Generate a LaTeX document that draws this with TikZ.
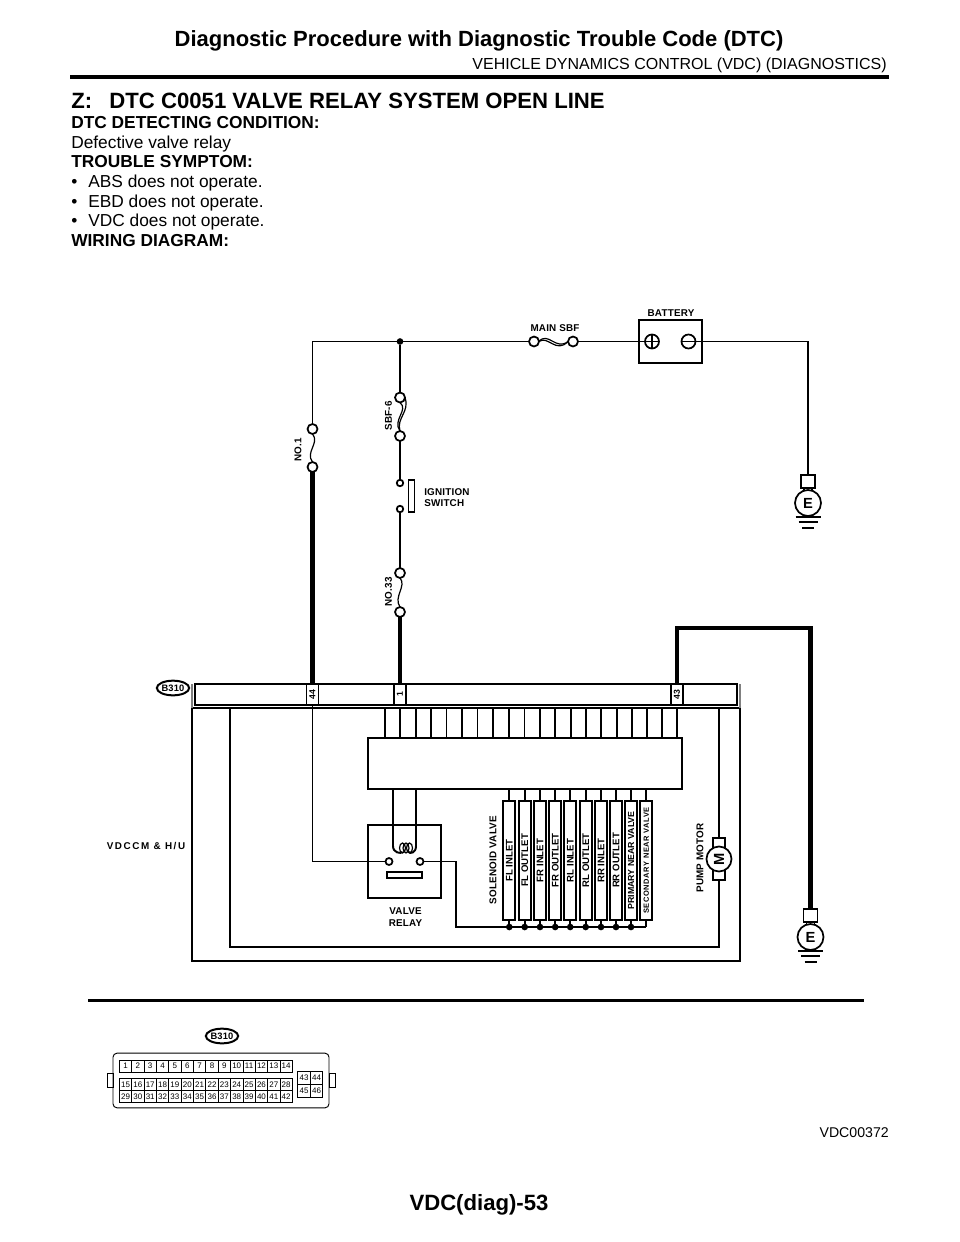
\documentclass[tikz,border=0pt]{standalone}
\usepackage{fontspec}
\setmainfont{Liberation Sans}
\newfontfamily\labfont[LetterSpace=2]{Liberation Sans Bold}
\newfontfamily\widelabfont[LetterSpace=16]{Liberation Sans Bold}
\newfontfamily\smalllabfont[LetterSpace=8]{Liberation Sans Bold}
\newfontfamily\cellfont{Liberation Sans Bold}
\tikzset{
  wire/.style={line width=1.45pt},
  thickwire/.style={line width=3.6pt},
  box/.style 2 args={draw,line width=1.45pt,fill=white,inner sep=0,outer sep=0,minimum width=#1*0.75pt,minimum height=#2*0.75pt},
  term/.style={circle,draw,line width=1.3pt,fill=white,inner sep=0,outer sep=0,minimum size=#1*0.75pt},
  dot/.style={circle,fill=black,inner sep=0,outer sep=0,minimum size=5pt},
  lab/.style={font=\labfont\fontsize{7.4}{8.8}\selectfont,align=center,inner sep=0},
  body/.style={anchor=base west,inner sep=0,font=\fontsize{13}{15}\selectfont},
  bodyb/.style={anchor=base west,inner sep=0,font=\bfseries\fontsize{13}{15}\selectfont},
  tag/.style={ellipse,draw,line width=1.5pt,inner sep=0,minimum width=24pt,minimum height=11pt,font=\labfont\fontsize{7}{8}\selectfont},
  pin/.style={box={21}{12},font=\labfont\fontsize{6.5}{7}\selectfont},
  cell/.style={box={119}{12},rotate=90,font=\cellfont\fontsize{7.2}{8}\selectfont},
  gridcell/.style={draw,line width=.6pt,inner sep=0,outer sep=0,minimum width=9.27pt,minimum height=#1*0.75pt,font=\fontsize{6}{7}\selectfont},
  fuse/.style={line width=.9pt},
}
\usetikzlibrary{shapes.geometric}
\begin{document}
\begin{tikzpicture}[x=0.75pt,y=-0.75pt]
\useasboundingbox (0,0) rectangle (960,1242);

% header
\node[inner sep=0,font=\bfseries\fontsize{16.5}{20}\selectfont,anchor=base] (title) at (479,46) {Diagnostic Procedure with Diagnostic Trouble Code (DTC)};
\node[inner sep=0,font=\fontsize{12}{14}\selectfont,anchor=base east] (subtitle) at (887,69) {VEHICLE DYNAMICS CONTROL (VDC) (DIAGNOSTICS)};
\draw[line width=3pt] (70,76.5) -- (889,76.5);

\node[bodyb,font=\bfseries\fontsize{16.6}{20}\selectfont] (head) at (71,108) {Z:\hspace{13pt}DTC C0051 VALVE RELAY SYSTEM OPEN LINE};
\node[bodyb] (t1) at (71,128.5) {DTC DETECTING CONDITION:};
\node[body] (t2) at (71,148) {Defective valve relay};
\node[bodyb] (t3) at (71,167.5) {TROUBLE SYMPTOM:};
\foreach \y/\txt in {187/ABS,207/EBD,226/VDC}{
  \node[body] at (71,\y) {•};
  \node[body] at (88,\y) {\txt{} does not operate.};
}
\node[bodyb] (t4) at (71,246) {WIRING DIAGRAM:};

% battery side
\node[box={63}{43}] (battery) at (670.5,341.5) {};
\node[term=14,fill=none] (plus) at (652,341.5) {};
\node[term=14,fill=none] (minus) at (688.5,341.5) {};
\draw[wire] (plus.west) -- (plus.east) (plus.north) -- (plus.south);
\draw[wire] (minus.west) -- (minus.east);
\node[lab] at (671,313) {BATTERY};
\node[lab] at (555,328) {MAIN SBF};

\node[dot] (junc) at (400,341.5) {};
\node[term=10] (sbfa) at (534,341.5) {};
\node[term=10] (sbfb) at (573,341.5) {};
\node[term=10] (no1a) at (312.5,429) {};
\node[term=10] (no1b) at (312.5,467) {};
\node[term=10] (sbf6a) at (400,397.5) {};
\node[term=10] (sbf6b) at (400,436) {};
\node[term=6.5] (iga) at (400,483) {};
\node[term=6.5] (igb) at (400,509) {};
\node[box={6}{32}] (igbar) at (411.5,496) {};
\node[term=10] (no33a) at (400,573) {};
\node[term=10] (no33b) at (400,612) {};

\draw[wire] (no1a) |- (junc);
\draw[wire] (junc) -- (sbfa);
\draw[wire] (sbfb) -- (plus);
\draw[wire] (junc) -- (sbf6a);
\draw[wire] (sbf6b) -- (iga);
\draw[wire] (igb) -- (no33a);

% fuses
\draw[fuse] (no1a.south) .. controls (320,443) and (305,452) .. (no1b.north);
\draw[fuse] (no33a.south) .. controls (407,586) and (393,597) .. (no33b.north);
\draw[fuse] (sbf6a.south) .. controls (409,410) and (392,420) .. (sbf6b.north);
\draw[fuse] (sbf6a.east) .. controls (410,412) and (396,418) .. (sbf6b.north);
\draw[fuse] (sbfa.east) .. controls (548,331) and (556,351) .. (sbfb.west);
\draw[fuse] (sbfa.east) .. controls (548,335) and (556,354) .. (sbfb.west);

\node[lab,rotate=90] at (298,450) {NO.1};
\node[lab,rotate=90] at (388.5,416) {SBF-6};
\node[lab,rotate=90] at (388.5,592) {NO.33};
\node[lab,align=left,anchor=west] at (424,497.5) {IGNITION\\SWITCH};

% grounds
\node[box={14}{13}] (eb1) at (808,481.5) {};
\node[term=26,font=\bfseries\fontsize{11}{12}\selectfont] (e1) at (808,503) {E};
\node[box={14}{13}] (eb2) at (810.5,915.5) {};
\node[term=26,font=\bfseries\fontsize{11}{12}\selectfont] (e2) at (810.5,937) {E};
\draw[wire] (minus) -| (eb1.north);
\draw[wire] (804,488) -- (804,491) (812,488) -- (812,491);
\draw[wire] (806.5,922) -- (806.5,925) (814.5,922) -- (814.5,925);
\draw[wire] (e1.south) ++(-12.5,1) -- ++(25,0) ++(-22,5) -- ++(19,0) ++(-15.5,6) -- ++(12,0);
\draw[wire] (e2.south) ++(-12.5,1) -- ++(25,0) ++(-22,5) -- ++(19,0) ++(-15.5,6) -- ++(12,0);

% control unit
\node[box={548}{253}] (vdccm) at (466,834.5) {};
\draw[line width=1pt,gray] (192,684) -- (192,708) (740,684) -- (740,708);
\node[box={542}{21}] (bar) at (466,694.5) {};
\node[pin,rotate=90] (p44) at (312.5,694.5) {44};
\node[pin,rotate=90] (p1) at (400,694.5) {1};
\node[pin,rotate=90] (p43) at (677,694.5) {43};
\node[tag] (b310a) at (173,688) {B310};
\node[font=\widelabfont\fontsize{7.4}{9}\selectfont,inner sep=0] at (146,846) {VDCCM \& H/U};

\draw[thickwire] (no1b) -- (p44.east);
\draw[thickwire] (no33b) -- (p1.east);
\draw[thickwire] (p43.east) |- (810.5,628) -- (eb2.north);

% pump motor and return
\node[box={12}{42}] (mtab) at (719,859) {};
\node[term=25,font=\bfseries\fontsize{11}{12}\selectfont] (motor) at (719,859) {\rotatebox{90}{M}};
\coordinate (rl) at (230,947);
\draw[wire] (230,708) -- (rl) -| (mtab.south);
\draw[wire] (mtab.north) -- (719,708);
\node[lab,rotate=90] at (700,858) {PUMP MOTOR};

% module block
\node[box={314}{51}] (ecu) at (525,763.5) {};
\foreach \x in {385,400.4,415.7,431,446.5,462,477.5,493,509,524.5,540,555.3,570.7,586,601.3,616.7,631.7,646.7,661.7,677}
  \draw[wire] (\x,708) -- (\x,0 |- ecu.north);

% valve relay
\node[box={73}{73}] (relay) at (404.5,861.5) {};
\node[term=7] (rca) at (389,861.5) {};
\node[term=7] (rcb) at (420,861.5) {};
\node[box={35}{6}] (rbar) at (404.5,875) {};
\draw[wire] (ecu.south -| 393,0) -- (393,846) .. controls (393,853) and (401,854) .. (402.5,852);
\draw[wire] (ecu.south -| 416,0) -- (416,846) .. controls (416,853) and (410,854) .. (409,852);
\draw[line width=.9pt] (402.5,848) ellipse (3 and 5) (406,848) ellipse (3 and 5) (409.5,848) ellipse (3 and 5);
\node[lab] at (405.5,917) {VALVE\\RELAY};
\draw[wire] (p44.west) -- (312.5,861.5) -- (rca);

% solenoid valves
\node[lab,rotate=90] at (493,860) {SOLENOID VALVE};
\coordinate (vend) at (646.3,927);
\draw[wire] (rcb) -| (456,927) -- (vend);
\foreach \i/\x/\txt in {1/509.3/FL INLET,2/524.7/FL OUTLET,3/540/FR INLET,4/555.2/FR OUTLET,5/570.2/RL INLET,6/585.7/RL OUTLET,7/601/RR INLET,8/616/RR OUTLET}{
  \node[cell] (v\i) at (\x,860.5) {\txt};
  \draw[wire] (v\i.east) -- (\x,0 |- ecu.south);
  \node[dot] (d\i) at (\x,927) {};
  \draw[wire] (v\i.west) -- (d\i);
}
\node[cell,font=\cellfont\fontsize{6.6}{8}\selectfont] (v9) at (631,860.5) {PRIMARY NEAR VALVE};
\draw[wire] (v9.east) -- (631,0 |- ecu.south);
\node[dot] (d9) at (631,927) {};
\draw[wire] (v9.west) -- (d9);
\node[cell,font=\smalllabfont\fontsize{5.6}{7}\selectfont] (v10) at (646.3,860.5) {SECONDARY NEAR VALVE};
\draw[wire] (v10.east) -- (646.3,0 |- ecu.south);
\draw[wire] (v10.west) -- (vend);

\draw[line width=2pt] (88,1000.5) -- (864,1000.5);

% connector
\node[tag] (b310b) at (222,1036) {B310};
\node[draw,line width=.7pt,rounded corners=3pt,inner sep=0,outer sep=0,minimum width=162pt,minimum height=41pt] (conn) at (221,1080.5) {};
\node[draw,line width=.7pt,inner sep=0,outer sep=0,minimum width=4.5pt,minimum height=10pt,anchor=east] (tabl) at (conn.west) {};
\node[draw,line width=.7pt,inner sep=0,outer sep=0,minimum width=4.5pt,minimum height=10pt,anchor=west] (tabr) at (conn.east) {};
\foreach \n in {1,...,14}
  \node[gridcell=12] (c\n) at ({125.5+(\n-1)*12.36},1066) {\n};
\foreach \n in {15,...,28}
  \node[gridcell=12.5] (c\n) at ({125.5+(\n-15)*12.36},1084.5) {\n};
\foreach \n in {29,...,42}
  \node[gridcell=12] (c\n) at ({125.5+(\n-29)*12.36},1096.8) {\n};
\foreach \n/\x/\y in {43/304/1078,44/316.5/1078,45/304/1091,46/316.5/1091}
  \node[gridcell=13] (c\n) at (\x,\y) {\n};

\node[inner sep=0,font=\fontsize{10.6}{12}\selectfont,anchor=base east] (code) at (889,1137) {VDC00372};
\node[inner sep=0,font=\bfseries\fontsize{16.6}{20}\selectfont,anchor=base] (page) at (479,1210) {VDC(diag)-53};

\end{tikzpicture}
\end{document}
